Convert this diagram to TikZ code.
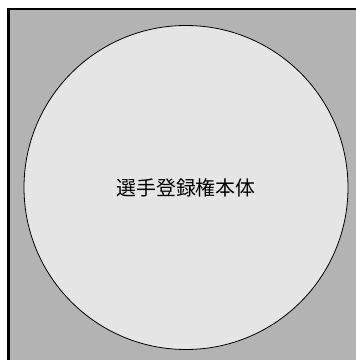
\documentclass[tikz,border=0pt]{standalone}
\usepackage{fontspec}
\newfontfamily\cjk{Noto Sans CJK JP}
\definecolor{bggrey}{HTML}{B3B3B3}
\definecolor{circgrey}{HTML}{E5E5E5}
\begin{document}
\begin{tikzpicture}[x=1bp,y=1bp,
  frame/.style={draw=black,line width=2bp,fill=bggrey},
  body/.style={circle,draw=black,line width=0.8bp,fill=circgrey,minimum size=324bp,inner sep=0pt,font=\cjk\fontsize{20}{24}\selectfont}]
\useasboundingbox (0,0) rectangle (356,360);
\fill[white] (0,0) rectangle (356,360);
\path[frame] (8.5,-10) rectangle (370,350.5);
\node[body] (main) at (186,172.5) {選手登録権本体};
\end{tikzpicture}
\end{document}
